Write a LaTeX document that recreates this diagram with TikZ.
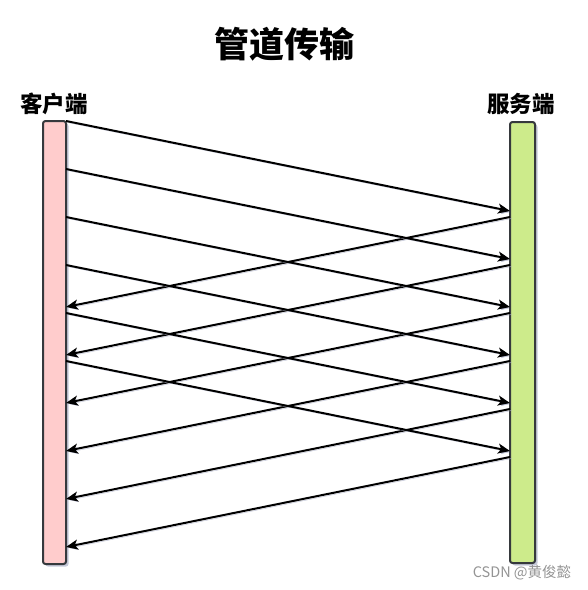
\documentclass[tikz,border=0pt]{standalone}
\usepackage{fontspec}
\newfontfamily\cjk{Noto Sans CJK SC}
\usetikzlibrary{arrows.meta}
\usetikzlibrary{shadows}
\usetikzlibrary{positioning}
\definecolor{clientcol}{HTML}{FFCCCC}
\definecolor{servercol}{HTML}{CDEB8B}
\definecolor{barline}{HTML}{36393D}
\definecolor{shadecol}{HTML}{B8BCD0}
\def\lw{2pt}
\def\gap{48pt}
\tikzset{
    bar/.style = {
        draw=barline, line width=2pt, rounded corners=2.5pt, inner sep=0pt, outer sep=0pt,
        drop shadow={shadow xshift=2.5pt, shadow yshift=-2.5pt, fill=shadecol, opacity=0.8}
    },
    msg/.style = {
        line width=\lw, -{Stealth[length=12pt, width=10pt, inset=3pt]},
        preaction={draw=shadecol, transform canvas={shift={(1.5pt,-1.5pt)}}}
    },
    side/.style = {font=\cjk\bfseries\fontsize{22.5}{22.5}\selectfont},
    headline/.style = {font=\cjk\bfseries\fontsize{35}{35}\selectfont},
    watermark/.style = {font=\cjk\fontsize{14.5}{14.5}\selectfont, text=black!42}
}

\begin{document}
\begin{tikzpicture}[x=1pt, y=-1pt]
        \useasboundingbox (0,0) rectangle (588,590);
        % Place the bars
        \node [bar, fill=clientcol, minimum width=23pt, minimum height=443pt] (client) at (54.5,342.5) {};
        \node [bar, fill=servercol, minimum width=25pt, minimum height=441pt] (server) at (522.5,342.5) {};
        % Labels
        \node [headline] (title) at (284,44) {管道传输};
        \node [side] (clientlabel) at (54,104) {客户端};
        \node [side] (serverlabel) at (521,104) {服务端};
        \node [watermark] (credit) at (522,573) {CSDN @黄俊懿};
        % Requests and responses
        \foreach \i in {0, 1, ..., 5}{
            \draw[msg] ([yshift=-\gap*\i] client.north east) -- ([yshift=-89pt-\gap*\i] server.north west);
            \draw[msg] ([yshift=-95pt-\gap*\i] server.north west) -- ([yshift=-186pt-\gap*\i] client.north east);
        }
    \end{tikzpicture}
\end{document}
